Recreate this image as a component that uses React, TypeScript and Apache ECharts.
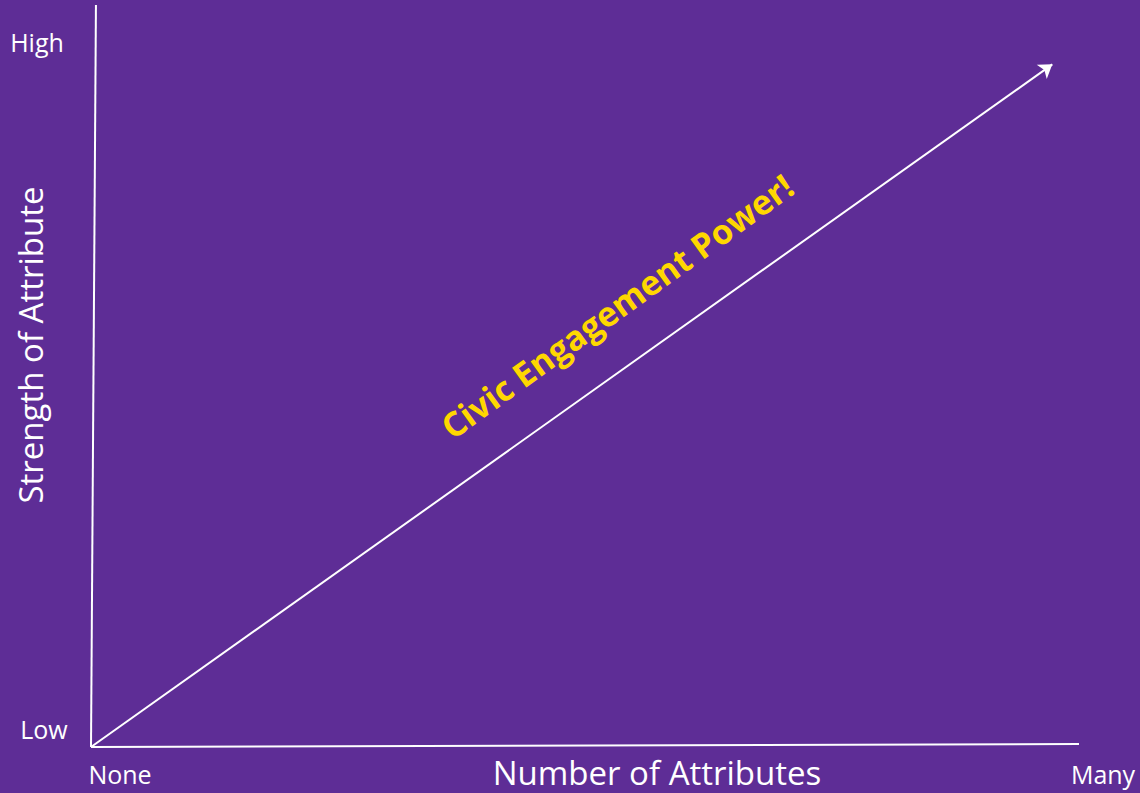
import React, { useEffect, useRef } from "react";
import * as echarts from "echarts";

// Conceptual chart: x = Number of Attributes (None..Many), y = Strength of Attribute (Low..High)
const xTickLabels = ["None", "Many"];
const yTickLabels = ["Low", "High"];
const axisLineX = [[0, 0], [100, 0.4]];
const axisLineY = [[0, 0], [0.5, 100]];
const powerArrow = [[0, 0], [97.3, 92.0]];
const arrowLabel = "Civic Engagement Power!";
const xName = "Number of Attributes";
const yName = "Strength of Attribute";

const BG = "#5E2D96";
const FONT = "'Open Sans', 'Noto Sans', sans-serif";

export default function App() {
  const ref = useRef<HTMLDivElement>(null);
  useEffect(() => {
    if (!ref.current) return;
    const chart = echarts.init(ref.current, undefined, { renderer: "svg" });
    chart.setOption({
      animation: false,
      backgroundColor: BG,
      grid: { left: 91, top: 5, width: 988, height: 742 },
      xAxis: { type: "value", min: 0, max: 100, show: false },
      yAxis: { type: "value", min: 0, max: 100, show: false },
      series: [
        {
          type: "lines",
          coordinateSystem: "cartesian2d",
          polyline: false,
          silent: true,
          symbol: ["none", "none"],
          lineStyle: { color: "#ffffff", width: 2, opacity: 1 },
          data: [{ coords: axisLineX }, { coords: axisLineY }],
        },
        {
          type: "lines",
          coordinateSystem: "cartesian2d",
          silent: true,
          symbol: ["none", "arrow"],
          symbolSize: 13,
          lineStyle: { color: "#ffffff", width: 2, opacity: 1 },
          data: [{ coords: powerArrow }],
        },
      ],
      graphic: [
        { type: "text", x: 37, y: 42, style: { text: yTickLabels[1], fill: "#fff", font: `25px ${FONT}`, align: "center", verticalAlign: "middle" } },
        { type: "text", x: 44, y: 729, style: { text: yTickLabels[0], fill: "#fff", font: `25px ${FONT}`, align: "center", verticalAlign: "middle" } },
        { type: "text", x: 120, y: 774, style: { text: xTickLabels[0], fill: "#fff", font: `25px ${FONT}`, align: "center", verticalAlign: "middle" } },
        { type: "text", x: 1103, y: 774, style: { text: xTickLabels[1], fill: "#fff", font: `25px ${FONT}`, align: "center", verticalAlign: "middle" } },
        { type: "text", x: 657, y: 772, style: { text: xName, fill: "#fff", font: `33px ${FONT}`, align: "center", verticalAlign: "middle" } },
        { type: "text", x: 30, y: 345, rotation: Math.PI / 2, style: { text: yName, fill: "#fff", font: `33px ${FONT}`, align: "center", verticalAlign: "middle" } },
        { type: "text", x: 617, y: 306, rotation: (35.8 * Math.PI) / 180, style: { text: arrowLabel, fill: "#FFD700", font: `bold 34px ${FONT}`, align: "center", verticalAlign: "middle" } },
      ],
    });
    return () => chart.dispose();
  }, []);
  return <div ref={ref} style={{ position: "fixed", left: 0, top: 0, width: 1140, height: 793 }} />;
}
